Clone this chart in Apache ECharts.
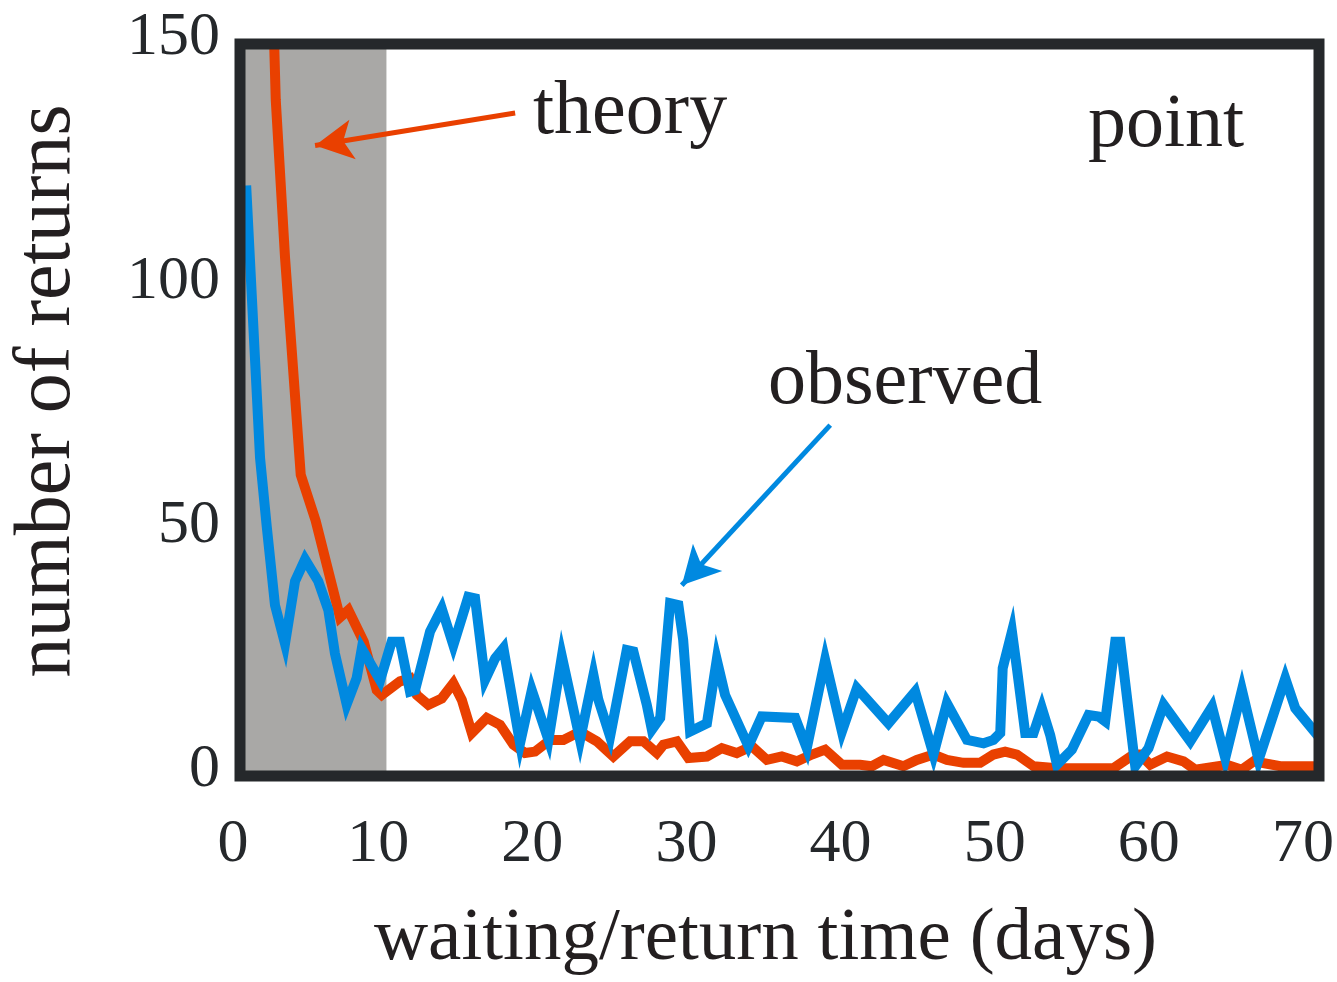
<!DOCTYPE html>
<html>
<head>
<meta charset="utf-8">
<title>number of returns vs waiting/return time</title>
<script src="https://cdn.jsdelivr.net/npm/echarts@6/dist/echarts.min.js"></script>
<style>
  html, body { margin: 0; padding: 0; background: #ffffff; }
  #chart { width: 1337px; height: 982px; }
</style>
</head>
<body>
<div id="chart"></div>
<script>
// Waiting / return time in days and the matching counts.
const theoryDays = [1.32, 2.32, 2.92, 3.94, 4.91, 6.49, 7.03, 8.03, 8.87, 9.2, 10.38, 11.03, 11.47, 12.22, 13.09, 13.84, 14.39, 15.04, 16.01, 16.87, 17.74, 18.49, 19.14, 20.12, 20.98, 22.06, 23.15, 24.22, 25.31, 26.17, 27.04, 27.47, 28.34, 29.09, 30.29, 31.26, 32.23, 33.2, 34.18, 35.15, 36.13, 37.1, 37.96, 39.05, 40.23, 40.99, 41.75, 43.04, 43.91, 44.99, 45.86, 46.94, 48.02, 48.88, 49.64, 50.4, 51.48, 53.0, 54.72, 56.67, 57.97, 58.4, 59.05, 60.14, 61.21, 61.97, 64.03, 65.0, 65.76, 67.49, 70.0];
const theoryCounts = [250, 138.5, 106.3, 61.7, 52.3, 32.5, 34.0, 27.5, 17.6, 16.6, 19.4, 20.0, 16.6, 14.6, 15.9, 19.0, 15.6, 8.8, 11.9, 10.5, 6.4, 4.7, 5.0, 7.4, 7.4, 9.1, 7.1, 4.0, 7.1, 7.1, 4.7, 6.4, 7.1, 3.7, 4.0, 5.7, 4.7, 6.1, 3.3, 4.0, 3.0, 4.4, 5.4, 2.3, 2.3, 2.0, 3.3, 2.0, 3.3, 4.4, 3.3, 2.7, 2.7, 4.4, 5.0, 4.4, 2.0, 1.6, 1.6, 1.6, 4.4, 4.4, 2.3, 4.0, 3.0, 1.3, 2.3, 1.3, 3.0, 2.0, 2.0];

const observedDays = [0.4, 1.3, 1.73, 2.27, 2.92, 3.57, 4.22, 5.08, 5.73, 6.16, 6.92, 7.57, 7.9, 9.09, 9.84, 10.38, 11.03, 11.36, 12.33, 13.09, 13.84, 14.81, 15.25, 15.9, 16.55, 17.09, 18.17, 18.93, 20.01, 20.88, 22.06, 22.93, 23.25, 24.01, 25.09, 25.52, 26.39, 26.72, 27.26, 27.9, 28.44, 28.75, 29.2, 30.29, 30.93, 31.47, 32.98, 33.85, 36.02, 36.77, 37.96, 39.05, 40.02, 42.07, 43.8, 44.99, 45.86, 47.16, 48.24, 48.88, 49.32, 49.48, 50.08, 50.4, 50.94, 51.48, 52.02, 52.56, 53.0, 53.97, 55.05, 55.7, 56.13, 56.78, 57.11, 58.08, 58.94, 59.92, 61.65, 63.06, 63.92, 65.0, 66.08, 67.81, 68.46, 70.0];
const observedCounts = [121, 65.2, 51.3, 35.0, 27.1, 39.9, 44.4, 39.9, 34.0, 25.1, 14.7, 20.1, 26.1, 19.6, 27.5, 27.5, 17.3, 17.6, 29.6, 34.3, 26.8, 36.7, 36.4, 19.7, 24.1, 26.2, 6.7, 17.6, 7.4, 24.5, 7.4, 20.7, 15.6, 8.1, 25.8, 25.5, 14.6, 9.5, 11.9, 35.4, 35.0, 27.9, 9.1, 10.8, 23.8, 16.6, 6.1, 12.2, 11.9, 5.7, 23.8, 9.1, 18.0, 10.8, 17.3, 4.4, 14.9, 7.4, 6.7, 7.4, 8.8, 22.1, 29.6, 22.1, 8.8, 8.8, 13.9, 8.4, 2.3, 5.4, 12.5, 12.2, 11.2, 27.5, 27.5, 2.0, 5.7, 14.6, 7.1, 14.2, 3.7, 17.6, 3.3, 20.0, 13.9, 8.0];

// Shaded early window (days).
const shadedWindow = [0, 9.5];

// Axis ticks.
const xTicks = [0, 10, 20, 30, 40, 50, 60, 70];
const yTicks = [0, 50, 100, 150];

// Annotation arrows: [tail, head] in (days, count).
const theoryArrow = [[17.85, 135.85], [4.87, 129.2]];
const observedArrow = [[38.29, 71.9], [28.66, 39.1]];

const RED = '#e94000';
const BLUE = '#0089e0';
const INK = '#231f20';
const FRAME = '#25282b';
const SERIF = '"Liberation Serif", "DejaVu Serif", serif';

const zip = (xs, ys) => xs.map((x, i) => [x, ys[i]]);

const chart = echarts.init(document.getElementById('chart'), null, { renderer: 'canvas' });

chart.setOption({
  animation: false,
  backgroundColor: '#ffffff',
  grid: {
    left: 240, right: 18, top: 44, bottom: 204,
    show: true,
    z: 10,
    backgroundColor: 'transparent',
    borderColor: FRAME,
    borderWidth: 11
  },
  xAxis: {
    type: 'value',
    min: xTicks[0],
    max: xTicks[xTicks.length - 1],
    interval: 10,
    axisLine: { show: false },
    axisTick: { show: false },
    splitLine: { show: false },
    axisLabel: {
      margin: 38,
      color: FRAME,
      fontFamily: SERIF,
      fontSize: 62,
      formatter: v => (v === 0 ? '{z|0}' : '{n|' + v + '}'),
      rich: {
        z: { padding: [0, 14, 0, 0] },
        n: { padding: [0, 32, 0, 0] }
      }
    },
    name: 'waiting/return time (days)',
    nameLocation: 'middle',
    nameGap: 126,
    nameTextStyle: {
      color: INK,
      fontFamily: SERIF,
      fontSize: 75,
      padding: [0, 28, 0, 0]
    }
  },
  yAxis: {
    type: 'value',
    min: yTicks[0],
    max: yTicks[yTicks.length - 1],
    interval: 50,
    axisLine: { show: false },
    axisTick: { show: false },
    splitLine: { show: false },
    axisLabel: {
      margin: 20,
      color: FRAME,
      fontFamily: SERIF,
      fontSize: 62,
      formatter: v => '{t|' + v + '}',
      rich: {
        t: { padding: [0, 0, 12, 0] }
      }
    },
    name: 'number of returns',
    nameLocation: 'middle',
    nameGap: 152,
    nameTextStyle: {
      color: INK,
      fontFamily: SERIF,
      fontSize: 80,
      padding: [0, 0, 0, 38]
    }
  },
  series: [
    {
      name: 'theory',
      type: 'line',
      z: 2,
      data: zip(theoryDays, theoryCounts),
      showSymbol: false,
      clip: true,
      lineStyle: { color: RED, width: 10, join: 'miter' },
      itemStyle: { color: RED },
      markArea: {
        silent: true,
        z: 1,
        itemStyle: { color: '#a9a8a6', opacity: 1 },
        data: [[{ xAxis: shadedWindow[0] }, { xAxis: shadedWindow[1] }]]
      },
      markLine: {
        silent: true,
        symbol: ['none', 'arrow'],
        symbolSize: [30, 38],
        label: { show: false },
        lineStyle: { color: RED, width: 5, type: 'solid' },
        emphasis: { disabled: true },
        data: [[
          { coord: theoryArrow[0] },
          { coord: theoryArrow[1] }
        ]]
      }
    },
    {
      name: 'observed',
      type: 'line',
      z: 3,
      data: zip(observedDays, observedCounts),
      showSymbol: false,
      clip: true,
      lineStyle: { color: BLUE, width: 10, join: 'miter' },
      itemStyle: { color: BLUE },
      markLine: {
        silent: true,
        symbol: ['none', 'arrow'],
        symbolSize: [30, 38],
        label: { show: false },
        lineStyle: { color: BLUE, width: 5, type: 'solid' },
        emphasis: { disabled: true },
        data: [[
          { coord: observedArrow[0] },
          { coord: observedArrow[1] }
        ]]
      }
    }
  ],
  graphic: [
    {
      type: 'text', left: 533, top: 75, z: 20,
      style: { text: 'theory', fill: INK, font: '76px ' + SERIF }
    },
    {
      type: 'text', left: 768, top: 345, z: 20,
      style: { text: 'observed', fill: INK, font: '76px ' + SERIF }
    },
    {
      type: 'text', left: 1088, top: 88, z: 20,
      style: { text: 'point', fill: INK, font: '76px ' + SERIF }
    }
  ]
});
</script>
</body>
</html>
